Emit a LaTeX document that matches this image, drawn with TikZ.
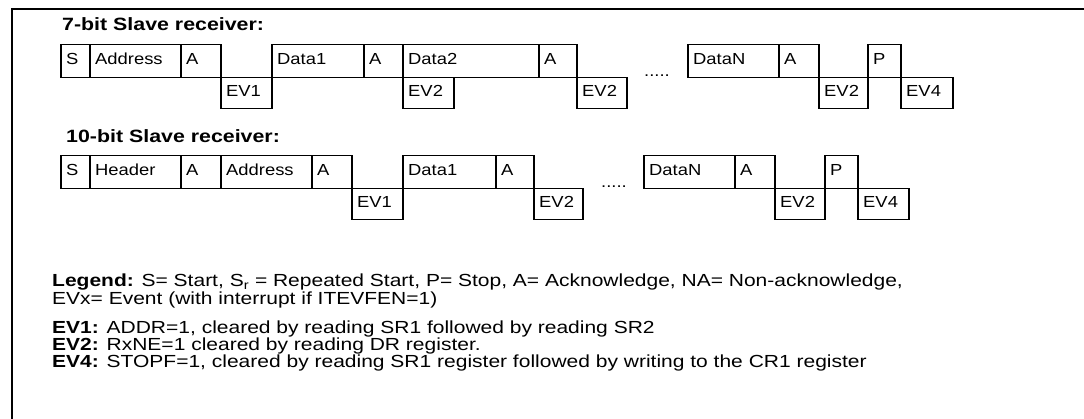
\documentclass[tikz,border=0pt]{standalone}
\usepackage{fontspec}
\setmainfont{Liberation Sans}[FakeStretch=1.2]
\newfontfamily\cellfont{Liberation Sans}[FakeStretch=1.15]
\begin{document}
\begin{tikzpicture}[x=1pt,y=-1pt,
  frame/.style={line width=2pt},
  cell/.style={draw, line width=1.5pt, inner sep=0pt, anchor=north west},
  topc/.style={cell, minimum height=33},
  evc/.style={cell, minimum height=31},
  ct/.style={anchor=west, xshift=6pt, yshift=2pt, inner sep=0pt, font=\cellfont\fontsize{16}{16}\selectfont},
  ttl/.style={anchor=base west, inner sep=0pt, font=\fontsize{17.8}{18}\selectfont\bfseries},
  leg/.style={anchor=base west, inner sep=0pt, font=\fontsize{17.5}{16}\selectfont},
  dots/.style={inner sep=0pt, font=\cellfont\fontsize{16}{16}\selectfont}]
\useasboundingbox (0,0) rectangle (1084,419);
\draw[frame] (12,419) -- (12,9) -- (1084,9);

% 7-bit
\node[ttl] (t7) at (62,31) {7-bit Slave receiver:};
\node[topc, minimum width=29, label={[ct]west:S}] (a1) at (60,44) {};
\node[topc, minimum width=91, label={[ct]west:Address}] (a2) at (89,44) {};
\node[topc, minimum width=40, label={[ct]west:A}] (a3) at (180,44) {};
\node[evc, minimum width=51, label={[ct]west:EV1}] (a4) at (220,77) {};
\node[topc, minimum width=92, label={[ct]west:Data1}] (a5) at (271,44) {};
\node[topc, minimum width=39, label={[ct]west:A}] (a6) at (363,44) {};
\node[topc, minimum width=136, label={[ct]west:Data2}] (a7) at (402,44) {};
\node[evc, minimum width=51, label={[ct]west:EV2}] (a8) at (402,77) {};
\node[topc, minimum width=38, label={[ct]west:A}] (a9) at (538,44) {};
\node[evc, minimum width=50, label={[ct]west:EV2}] (a10) at (576,77) {};
\node[dots] (d1) at (657,76) {.....};
\node[topc, minimum width=91, label={[ct]west:DataN}] (a11) at (687,44) {};
\node[topc, minimum width=40, label={[ct]west:A}] (a12) at (778,44) {};
\node[evc, minimum width=49, label={[ct]west:EV2}] (a13) at (818,77) {};
\node[topc, minimum width=33, label={[ct]west:P}] (a14) at (867,44) {};
\node[evc, minimum width=52, label={[ct]west:EV4}] (a15) at (900,77) {};

% 10-bit
\node[ttl] (t10) at (66,143) {10-bit Slave receiver:};
\node[topc, minimum width=29, label={[ct]west:S}] (b1) at (60,155) {};
\node[topc, minimum width=91, label={[ct]west:Header}] (b2) at (89,155) {};
\node[topc, minimum width=40, label={[ct]west:A}] (b3) at (180,155) {};
\node[topc, minimum width=91, label={[ct]west:Address}] (b4) at (220,155) {};
\node[topc, minimum width=40, label={[ct]west:A}] (b5) at (311,155) {};
\node[evc, minimum width=51, label={[ct]west:EV1}] (b6) at (351,188) {};
\node[topc, minimum width=93, label={[ct]west:Data1}] (b7) at (402,155) {};
\node[topc, minimum width=38, label={[ct]west:A}] (b8) at (495,155) {};
\node[evc, minimum width=49, label={[ct]west:EV2}] (b9) at (533,188) {};
\node[dots] (d2) at (614,187) {.....};
\node[topc, minimum width=91, label={[ct]west:DataN}] (b10) at (643,155) {};
\node[topc, minimum width=40, label={[ct]west:A}] (b11) at (734,155) {};
\node[evc, minimum width=50, label={[ct]west:EV2}] (b12) at (774,188) {};
\node[topc, minimum width=33, label={[ct]west:P}] (b13) at (824,155) {};
\node[evc, minimum width=51, label={[ct]west:EV4}] (b14) at (857,188) {};

% legend
\node[leg] (lg1) at (52,287) {\textbf{Legend:} S= Start, S\textsubscript{r} = Repeated Start, P= Stop, A= Acknowledge, NA= Non-acknowledge,};
\node[leg] (lg2) at (52,305) {EVx= Event (with interrupt if ITEVFEN=1)};
\node[leg] (e1) at (52,334) {\textbf{EV1:} ADDR=1, cleared by reading SR1 followed by reading SR2};
\node[leg] (e2) at (52,351) {\textbf{EV2:} RxNE=1 cleared by reading DR register.};
\node[leg] (e4) at (52,368) {\textbf{EV4:} STOPF=1, cleared by reading SR1 register followed by writing to the CR1 register};
\end{tikzpicture}
\end{document}
